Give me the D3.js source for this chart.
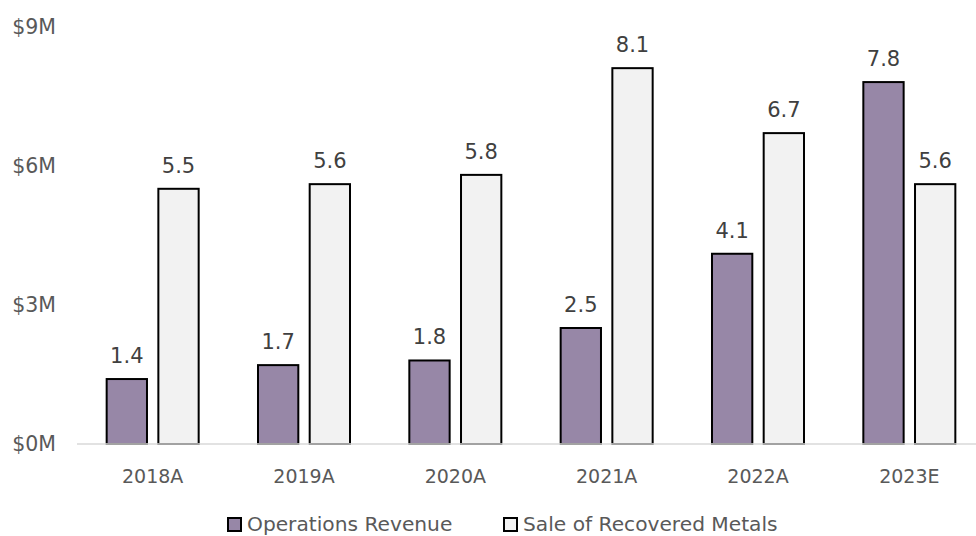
<!DOCTYPE html>
<html>
<head>
<meta charset="utf-8">
<script src="https://cdn.jsdelivr.net/npm/d3@7"></script>
<style>
  body { margin: 0; background: #fff; }
  svg { font-family: "DejaVu Sans", Verdana, sans-serif; }
</style>
</head>
<body>
<svg id="chart" width="976" height="536"></svg>
<script>
let years = ["2018A", "2019A", "2020A", "2021A", "2022A", "2023E"];
let operationsRevenue = [1.4, 1.7, 1.8, 2.5, 4.1, 7.8];
let recoveredMetals = [5.5, 5.6, 5.8, 8.1, 6.7, 5.6];
let seriesNames = ["Operations Revenue", "Sale of Recovered Metals"];
let seriesColors = ["#9787a7", "#f2f2f2"];
let yTicks = [0, 3, 6, 9];

let svg = d3.select("#chart");

let y = d3.scaleLinear().domain([0, 9]).range([444, 26.4]);
let x0 = d3.scaleBand().domain(years).range([77, 985]).padding(0);
let x1 = d3.scaleBand().domain([0, 1]).range([0, 92]).paddingInner(0.22);
let groupOffset = (x0.bandwidth() - 92) / 2;

// y axis labels
svg.append("g")
  .selectAll("text")
  .data(yTicks)
  .enter()
  .append("text")
  .attr("x", 56)
  .attr("y", (d) => y(d))
  .attr("dy", "0.36em")
  .attr("text-anchor", "end")
  .attr("fill", "#595959")
  .style("font-size", "20.5px")
  .text((d) => "$" + d + "M");

let rows = years.map((yr, i) => ({ year: yr, values: [operationsRevenue[i], recoveredMetals[i]] }));

let groups = svg.append("g")
  .selectAll("g")
  .data(rows)
  .enter()
  .append("g")
  .attr("transform", (d) => "translate(" + (x0(d.year) + groupOffset) + ",0)");

groups.selectAll("rect")
  .data((d) => d.values)
  .enter()
  .append("rect")
  .attr("x", (d, i) => x1(i))
  .attr("y", (d) => y(d))
  .attr("width", x1.bandwidth())
  .attr("height", (d) => y(0) - y(d))
  .attr("fill", (d, i) => seriesColors[i])
  .attr("stroke", "#000")
  .attr("stroke-width", 2);

groups.selectAll("text")
  .data((d) => d.values)
  .enter()
  .append("text")
  .attr("x", (d, i) => x1(i) + x1.bandwidth() / 2)
  .attr("y", (d) => y(d) - 16)
  .attr("text-anchor", "middle")
  .attr("fill", "#404040")
  .style("font-size", "21px")
  .text((d) => d3.format(".1f")(d));

// baseline
svg.append("line")
  .attr("x1", 77)
  .attr("x2", 976)
  .attr("y1", y(0))
  .attr("y2", y(0))
  .attr("stroke", "#d9d9d9")
  .attr("stroke-width", 1.5);

// category labels
svg.append("g")
  .selectAll("text")
  .data(years)
  .enter()
  .append("text")
  .attr("x", (d) => x0(d) + x0.bandwidth() / 2)
  .attr("y", 483)
  .attr("text-anchor", "middle")
  .attr("fill", "#595959")
  .style("font-size", "19px")
  .text((d) => d);

// legend
let legendX = [228, 504];
let legend = svg.append("g")
  .selectAll("g")
  .data(seriesNames)
  .enter()
  .append("g")
  .attr("transform", (d, i) => "translate(" + legendX[i] + ",518)");

legend.append("rect")
  .attr("width", 13)
  .attr("height", 13)
  .attr("fill", (d, i) => seriesColors[i])
  .attr("stroke", "#000")
  .attr("stroke-width", 2);

legend.append("text")
  .attr("x", 19)
  .attr("y", 13)
  .attr("fill", "#595959")
  .style("font-size", "20.2px")
  .text((d) => d);
</script>
</body>
</html>
